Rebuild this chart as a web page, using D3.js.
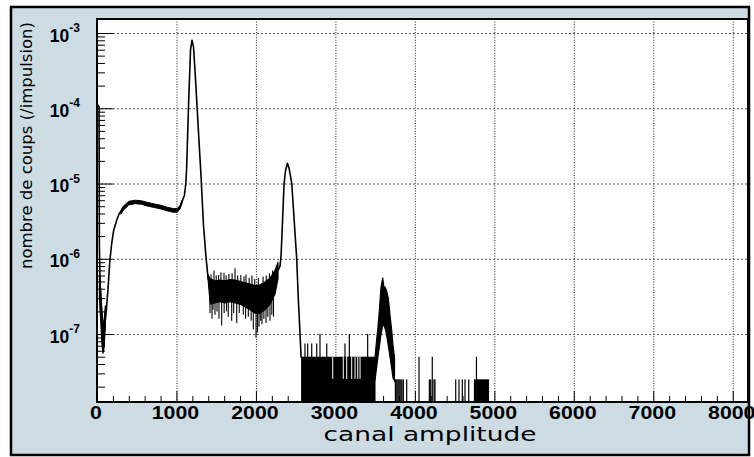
<!DOCTYPE html>
<html><head><meta charset="utf-8">
<script src="https://cdn.jsdelivr.net/npm/d3@7"></script>
<style>body{margin:0;background:#fff}</style>
</head><body>
<svg id="c" width="754" height="457"></svg>
<script>
// ---------- data ----------
const xTickValues = [0,1000,2000,3000,4000,5000,6000,7000,8000];
const yDecades = [1e-3,1e-4,1e-5,1e-6,1e-7];
const yExponents = ["-3","-4","-5","-6","-7"];
const xTitle = "canal amplitude";
const yTitle = "nombre de coups (/impulsion)";
const xDomain = [0, 8192];
const yDomain = [1.25e-8, 1.535e-3];

// smooth part: start, plateau, 1st peak
const leftCh  = [0,12,26,30,40,52,65,72,80,95,120,145,160,185,210,250,280,330,400,480,560,640,720,800,880,960,1010,1045,1075,1100,1118,1128,1152,1177,1195,1215,1240,1265,1290,1310,1340,1370,1400];
const leftVal = [1.1e-4,1.1e-4,1.05e-4,1.5e-6,4.5e-7,2.5e-7,1.2e-7,1.0e-7,6e-8,1.2e-7,2.2e-7,5e-7,9e-7,1.6e-6,2.4e-6,3.3e-6,4.0e-6,4.7e-6,5.5e-6,5.7e-6,5.6e-6,5.3e-6,5.1e-6,4.9e-6,4.6e-6,4.4e-6,4.4e-6,4.9e-6,5.9e-6,7.0e-6,1.0e-5,1.6e-5,1.1e-4,6.0e-4,8.0e-4,6.5e-4,2.4e-4,8.1e-5,2.8e-5,1.2e-5,2.8e-6,1.1e-6,5.2e-7];

// noisy start (low channels)
const startCh = [30,45,60,75,90,105];
const startHi = [6e-7,4e-7,2.2e-7,1.4e-7,1.5e-7,2.4e-7];
const startLo = [3e-7,1.6e-7,8e-8,5.5e-8,7e-8,1.3e-7];

// plateau noise envelope
const plateauCh = [300,330,400,480,560,640,720,800,880,960,1010,1045,1070];
const plateauHi = [4.4e-6,5.0e-6,5.8e-6,6.0e-6,5.9e-6,5.6e-6,5.35e-6,5.15e-6,4.85e-6,4.65e-6,4.65e-6,5.1e-6,6.0e-6];
const plateauLo = [3.9e-6,4.4e-6,5.2e-6,5.4e-6,5.3e-6,5.0e-6,4.8e-6,4.6e-6,4.35e-6,4.15e-6,4.15e-6,4.6e-6,5.5e-6];

// valley between peaks 1 and 2 (noise envelope + spikes)
const valleyCh = [1400,1425,1485,1548,1611,1674,1737,1800,1862,1925,1988,2051,2114,2177,2240,2278];
const valleyHi = [6e-7,5.4e-7,5.1e-7,5.2e-7,5.1e-7,5.3e-7,5.2e-7,5.0e-7,4.8e-7,4.6e-7,4.4e-7,4.5e-7,4.9e-7,5.5e-7,7e-7,9e-7];
const valleyLo = [5e-7,2.5e-7,2.6e-7,2.7e-7,2.6e-7,2.7e-7,2.6e-7,2.5e-7,2.3e-7,2.1e-7,1.9e-7,1.9e-7,2.1e-7,2.5e-7,3.4e-7,5.5e-7];
const spikeBase = 3.4e-7;
const spikeCh  = [1422,1447,1460,1485,1510,1535,1569,1600,1630,1652,1695,1720,1758,1790,1841,1870,1904,1940,1967,2001,2020,2039,2060,2076,2100,2127,2150,2177,2200,2221,
                  1435,1472,1500,1530,1560,1598,1625,1660,1700,1737,1770,1810,1850,1875,1915,1950,1985,2030,2090,2130,2170,2210];
const spikeTip = [1.9e-7,1.6e-7,2.1e-7,1.8e-7,2.0e-7,1.6e-7,1.3e-7,1.9e-7,2.0e-7,1.7e-7,1.5e-7,1.9e-7,1.4e-7,1.9e-7,1.8e-7,1.6e-7,1.7e-7,1.5e-7,1.15e-7,9e-8,1.05e-7,1.25e-7,1.5e-7,1.35e-7,1.6e-7,1.4e-7,1.7e-7,1.5e-7,1.8e-7,1.7e-7,
                  6.2e-7,7e-7,6.0e-7,6.1e-7,6.6e-7,6.5e-7,6.0e-7,6.3e-7,6.4e-7,7.5e-7,6.0e-7,6.1e-7,5.8e-7,6.2e-7,5.6e-7,6e-7,5.4e-7,5.6e-7,5.8e-7,6.0e-7,6.4e-7,7e-7];

// second peak
const peak2Ch  = [2278,2303,2316,2335,2354,2373,2396,2417,2451,2480,2513,2533,2555,2568];
const peak2Val = [7e-7,8e-7,1.1e-6,3.2e-6,1.0e-5,1.5e-5,1.86e-5,1.6e-5,1.0e-5,3.4e-6,1.0e-6,3e-7,1.0e-7,4.9e-8];

// single-count floor region
const countUnit = 2.44e-8;
const floorRange = [2568, 3505];
const floorLevel = 2;
const floorSpikeCh  = [2617,2651,2702,2765,2806,2891,3121,3175,3406];
const floorSpikeCnt = [3,3,3,3,4,3,3,4,4];
const floorGapCh = [2966,3099,3142,3205,3247,3281,3310];

// third peak envelope
const peak3Ch = [3498,3517,3536,3555,3574,3596,3612,3624,3643,3666,3687,3709,3725,3744];
const peak3Hi = [4.9e-8,8e-8,1.25e-7,2.2e-7,4.2e-7,5.6e-7,3.9e-7,4.2e-7,3.8e-7,3.0e-7,1.8e-7,1.1e-7,7e-8,4.9e-8];
const peak3Lo = [2.4e-8,3.5e-8,5e-8,7e-8,1.0e-7,1.3e-7,1.3e-7,1.2e-7,1.0e-7,7e-8,5e-8,3.5e-8,2.6e-8,2.4e-8];

// isolated counts above the 3rd peak
const sparseCh  = [3755,3763,3775,3788,3800,3813,3826,3838,3855,3897,4052,4182,4199,4219,4241,4253,4514,4555,4597,4631,4678,4750,4763,4775,4788,4800,4813,4826,4838,4851,4863,4876,4889,4901,4914,4926];
const sparseCnt = [1,1,1,1,1,1,1,1,1,1,2,1,1,2,1,1,1,1,1,1,1,1,1,2,1,1,1,1,1,1,1,1,1,1,1,1];

// ---------- drawing ----------
const L = 97, R = 748, T = 19, B = 402;
const svg = d3.select("#c");

svg.append("rect").attr("x",11).attr("y",7).attr("width",738).attr("height",448)
  .attr("fill","rgb(205,220,227)").attr("stroke","#000").attr("stroke-width",2.5);
svg.append("rect").attr("x",L).attr("y",T).attr("width",R-L).attr("height",B-T).attr("fill","#fff");

const x = d3.scaleLinear().domain(xDomain).range([L,R]);
const y = d3.scaleLog().domain(yDomain).range([B,T]);

// grid
const grid = svg.append("g");
grid.selectAll("line.v").data(xTickValues.filter(d=>d>0)).join("line")
  .attr("x1",d=>x(d)+0.5).attr("x2",d=>x(d)+0.5).attr("y1",T).attr("y2",B)
  .attr("stroke","#222").attr("stroke-width",1).attr("stroke-dasharray","1,1.6");
grid.selectAll("line.h").data(yDecades).join("line")
  .attr("x1",L).attr("x2",R).attr("y1",d=>y(d)+0.5).attr("y2",d=>y(d)+0.5)
  .attr("stroke","#555").attr("stroke-width",1).attr("stroke-dasharray","2,2");

// data
svg.append("clipPath").attr("id","clip").append("rect").attr("x",L+1).attr("y",T).attr("width",R-L-1).attr("height",B-T);
const data = svg.append("g").attr("clip-path","url(#clip)");
const line = d3.line().x(d=>x(d[0])).y(d=>y(d[1]));
const area = d3.area().x(d=>x(d[0])).y0(d=>y(d[2])).y1(d=>y(d[1]));
const band = (ch,hi,lo,w) => data.append("path").datum(ch.map((c,i)=>[c,hi[i],lo[i]]))
  .attr("d",area).attr("fill","#000").attr("stroke","#000").attr("stroke-width",w);

band(startCh,startHi,startLo,1.2);
band(plateauCh,plateauHi,plateauLo,1);
data.append("path").datum(leftCh.map((c,i)=>[c,leftVal[i]]))
  .attr("d",line).attr("fill","none").attr("stroke","#000").attr("stroke-width",1.6).attr("stroke-linejoin","round");
band(valleyCh,valleyHi,valleyLo,1.2);
data.selectAll("line.sp").data(spikeCh.map((c,i)=>[c,spikeTip[i]])).join("line")
  .attr("x1",d=>x(d[0])).attr("x2",d=>x(d[0])).attr("y1",d=>y(spikeBase)).attr("y2",d=>y(d[1]))
  .attr("stroke","#000").attr("stroke-width",1.1);
data.append("path").datum(peak2Ch.map((c,i)=>[c,peak2Val[i]]))
  .attr("d",line).attr("fill","none").attr("stroke","#000").attr("stroke-width",1.6).attr("stroke-linejoin","round");

// floor block
data.append("rect").attr("x",x(floorRange[0])).attr("width",x(floorRange[1])-x(floorRange[0]))
  .attr("y",y(floorLevel*countUnit)-0.75).attr("height",B-y(floorLevel*countUnit)+0.75).attr("fill","#000");
data.selectAll("rect.gap").data(floorGapCh).join("rect")
  .attr("x",d=>x(d)-0.5).attr("width",1)
  .attr("y",y(floorLevel*countUnit)-0.75).attr("height",y(countUnit)-y(floorLevel*countUnit)-0.5).attr("fill","#fff");
data.selectAll("rect.fs").data(floorSpikeCh.map((c,i)=>[c,floorSpikeCnt[i]])).join("rect")
  .attr("x",d=>x(d[0])-0.6).attr("width",1.2)
  .attr("y",d=>y(d[1]*countUnit)-0.75).attr("height",d=>y(floorLevel*countUnit)-y(d[1]*countUnit)+0.75).attr("fill","#000");

// third peak
band(peak3Ch,peak3Hi,peak3Lo,1.2);
data.selectAll("rect.sparse").data(sparseCh.map((c,i)=>[c,sparseCnt[i]])).join("rect")
  .attr("x",d=>x(d[0])-0.6).attr("width",1.2)
  .attr("y",d=>y(d[1]*countUnit)-0.75).attr("height",d=>B-y(d[1]*countUnit)+0.75).attr("fill","#000");

// ticks
const xMinor = d3.range(200, xDomain[1], 200).filter(d=>d%1000!==0);
const ticks = svg.append("g").attr("stroke","#000").attr("stroke-width",1);
ticks.selectAll("line.xM").data(xTickValues).join("line")
  .attr("x1",d=>x(d)+0.5).attr("x2",d=>x(d)+0.5).attr("y1",B).attr("y2",B-11);
ticks.selectAll("line.xm").data(xMinor).join("line")
  .attr("x1",d=>x(d)+0.5).attr("x2",d=>x(d)+0.5).attr("y1",B).attr("y2",B-6);
const yMinor = [];
for (let e=-8; e<=-3; e++) for (let m=2; m<=9; m++) { const v=m*Math.pow(10,e); if (v>yDomain[0] && v<yDomain[1]) yMinor.push(v); }
ticks.selectAll("line.yM").data(yDecades).join("line")
  .attr("x1",L).attr("x2",L+16).attr("y1",d=>y(d)+0.5).attr("y2",d=>y(d)+0.5);
ticks.selectAll("line.ym").data(yMinor).join("line")
  .attr("x1",L).attr("x2",L+8).attr("y1",d=>y(d)+0.5).attr("y2",d=>y(d)+0.5);

// frame
svg.append("rect").attr("x",L).attr("y",T).attr("width",R-L).attr("height",B-T)
  .attr("fill","none").attr("stroke","#000").attr("stroke-width",2);

// x tick labels
svg.append("g").selectAll("text").data(xTickValues).join("text")
  .attr("transform",d=>`translate(${x(d)-1},419) scale(1.22,1)`)
  .attr("text-anchor","middle")
  .style("font","bold 17.5px 'Liberation Sans', Arial, sans-serif")
  .text(d=>String(d));

// y tick labels
const yl = svg.append("g").selectAll("text").data(yDecades).join("text")
  .attr("x",80).attr("y",d=>y(d)+8.5).attr("text-anchor","end")
  .style("font","bold 17.5px 'Liberation Sans', Arial, sans-serif");
yl.append("tspan").text("10");
yl.append("tspan").attr("dy",-9.5).style("font-size","12px").text((d,i)=>yExponents[i]);

// titles
svg.append("text").attr("x",430).attr("y",441).attr("text-anchor","middle")
  .attr("textLength",213).attr("lengthAdjust","spacingAndGlyphs")
  .style("font","19px 'DejaVu Sans', sans-serif").text(xTitle);
svg.append("text").attr("transform","translate(32,22) rotate(-90)").attr("text-anchor","end")
  .style("font","16.5px 'DejaVu Sans', sans-serif").text(yTitle);
</script>
</body></html>
